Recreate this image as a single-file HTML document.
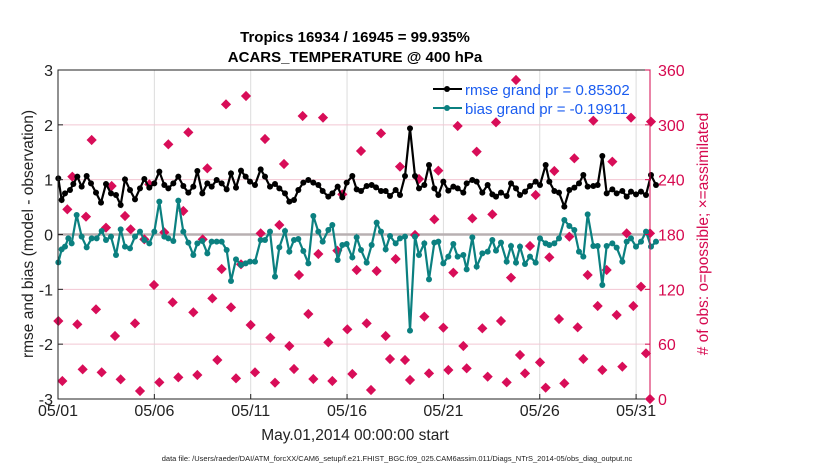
<!DOCTYPE html>
<html><head><meta charset="utf-8">
<style>
html,body{margin:0;padding:0;background:#fff;}
body{width:830px;height:470px;overflow:hidden;}
text{font-family:"Liberation Sans",Arial,sans-serif;}
</style></head>
<body>
<svg id="s" width="830" height="470" xmlns="http://www.w3.org/2000/svg">
<rect width="830" height="470" fill="#fff"/>
<g id="grid"></g>
<g id="pts"></g>
<g id="lines"></g>
<rect x="58" y="70" width="592" height="329" fill="none" stroke="#222" stroke-width="1"/>
<g id="ticks"></g>
<text x="355" y="42" text-anchor="middle" font-size="15" font-weight="bold">Tropics 16934 / 16945 = 99.935%</text>
<text x="355" y="62" text-anchor="middle" font-size="15" font-weight="bold">ACARS_TEMPERATURE @ 400 hPa</text>
<text x="355" y="440" text-anchor="middle" font-size="15.5" fill="#222">May.01,2014 00:00:00 start</text>
<text x="397" y="461" text-anchor="middle" font-size="7.5" fill="#222">data file: /Users/raeder/DAI/ATM_forcXX/CAM6_setup/f.e21.FHIST_BGC.f09_025.CAM6assim.011/Diags_NTrS_2014-05/obs_diag_output.nc</text>
<text transform="translate(33,234) rotate(-90)" text-anchor="middle" font-size="15.5" fill="#222">rmse and bias (model - observation)</text>
<text transform="translate(708,234) rotate(-90)" text-anchor="middle" font-size="15.5" fill="#d6094f">#  of obs: o=possible; ×=assimilated</text>
<g id="legend">
<line x1="433" y1="89" x2="462" y2="89" stroke="#000" stroke-width="2"/><circle cx="447" cy="89" r="3" fill="#000"/>
<text x="465" y="95" font-size="15" fill="#1a5cf0">rmse grand pr = 0.85302</text>
<line x1="433" y1="108" x2="462" y2="108" stroke="#0b8080" stroke-width="2"/><circle cx="447" cy="108" r="3" fill="#0b8080"/>
<text x="465" y="114" font-size="15" fill="#1a5cf0">bias grand pr = -0.19911</text>
</g>
</svg>
<script>
var NS="http://www.w3.org/2000/svg";
function el(p,t,a){var e=document.createElementNS(NS,t);for(var k in a)e.setAttribute(k,a[k]);document.getElementById(p).appendChild(e);return e;}
var L=58,R=650,T=70,B=399;
for(var d=5;d<=30;d+=5){var x=58+d*19.27;el("grid","line",{x1:x,x2:x,y1:T,y2:B,stroke:"#dcdcdc","stroke-width":1});}
for(var v=-2;v<=2;v++){if(v==0)continue;var y=234.5-v*54.83;el("grid","line",{x1:L,x2:R,y1:y,y2:y,stroke:"#f2c6d3","stroke-width":1});}
el("grid","line",{x1:L,x2:R,y1:234.5,y2:234.5,stroke:"#b8b0b2","stroke-width":2.5});
var lab=["05/01","05/06","05/11","05/16","05/21","05/26","05/31"];
for(var i=0;i<7;i++){var x=58+i*5*19.27;el("ticks","line",{x1:x,x2:x,y1:B,y2:B-5,stroke:"#222"});var t=el("ticks","text",{x:x,y:416,"text-anchor":"middle","font-size":16,fill:"#222"});t.textContent=lab[i];}
for(var v=-3;v<=3;v++){var y=234.5-v*54.83;el("ticks","line",{x1:L,x2:L+5,y1:y,y2:y,stroke:"#222"});var t=el("ticks","text",{x:53,y:y+6,"text-anchor":"end","font-size":16,fill:"#222"});t.textContent=v;
 el("ticks","line",{x1:R,x2:R-5,y1:y,y2:y,stroke:"#d6094f"});var t2=el("ticks","text",{x:658,y:y+6,"font-size":16,fill:"#d6094f"});t2.textContent=(v+3)*60;}
el("ticks","line",{x1:R,x2:R,y1:T,y2:B,stroke:"#d6094f","stroke-width":1});
function m1(a){var r=[];for(var i=0;i<a.length;i+=2)r.push([55+a[i]/3,60+a[i+1]/3]);return r;}
function m2(a){var r=[];for(var i=0;i<a.length;i+=2)r.push([340+a[i]/3,60+a[i+1]/3]);return r;}
var rm=m1([10,355,20,420,30,400,45,390,55,372,67,350,80,380,95,348,108,370,123,398,138,428,153,372,168,400,183,405,197,435,210,358,225,390,240,418,255,385,268,357,283,383,298,370,313,335,328,375,340,385,355,370,370,350,385,378,400,398,415,380,427,333,442,400,457,370,470,380,485,360,500,370,515,388,528,340,543,383,558,332,572,350,585,365,600,375,617,328,630,350,645,380,660,372,673,385,690,400,703,425,717,420,730,390,745,368,760,360,775,368,790,375,803,393,820,410,832,400,848,380,862,412]).concat(m2([20,368,37,348,50,388,63,393,80,378,95,375,108,382,123,393,137,393,150,408,167,390,180,405,195,348,210,205,225,348,237,385,253,375,267,315,283,385,295,405,310,365,325,392,340,380,353,385,370,398,380,370,397,360,410,365,427,398,443,375,457,403,468,410,483,398,500,408,513,370,528,385,540,405,555,395,570,378,587,365,600,375,617,315,628,365,643,393,657,398,673,440,688,390,703,383,717,370,730,345,743,380,760,378,773,375,787,288,800,400,817,388,830,400,847,393,860,410,873,395,888,403,903,395,918,405,933,345,948,375]));
var bi=m1([10,607,20,568,30,560,40,535,50,550,65,465,80,530,95,562,110,535,125,535,140,513,153,540,168,530,183,585,197,508,210,560,225,565,240,530,255,515,268,540,283,550,298,515,313,425,328,530,340,535,355,543,370,422,385,515,400,548,415,585,427,550,442,543,457,580,470,545,485,545,500,545,515,570,528,663,543,598,558,615,572,610,585,605,600,605,617,540,630,540,645,515,660,650,673,562,690,513,703,575,717,540,730,537,745,573,760,610,775,468,790,515,803,545,820,510,832,495,848,600,862,555]).concat(m2([20,552,37,592,50,532,63,570,80,608,95,555,110,488,123,515,137,568,150,528,167,550,180,535,195,530,210,812,225,530,237,585,253,550,267,658,283,548,295,545,310,610,325,590,340,552,353,590,370,585,380,628,397,532,410,620,427,580,443,575,457,540,468,572,483,548,500,605,513,558,528,608,540,560,555,612,570,590,587,608,600,535,617,550,628,555,643,550,657,535,673,480,688,498,703,510,717,575,730,590,743,463,760,558,773,558,787,675,800,558,817,550,830,563,847,605,860,545,873,535,888,560,903,545,918,515,933,560,948,545]));
var dm=m1([10,783,22,963,37,448,52,350,67,793,83,928,93,470,110,240,123,748,140,937,153,503,170,378,180,828,197,958,210,468,227,508,240,790,255,993,268,538,283,373,297,675,313,967,328,517,340,253,353,727,370,952,385,453,400,217,415,757,427,945,443,538,457,325,472,715,487,900,500,627,513,133,528,742,543,955,558,613,573,108,587,795,600,937,617,520,630,237,646,833,660,968,673,495,687,312,703,858,717,927,732,645,743,168,760,762,775,957,790,582,804,173,820,847,832,963,847,572,862,403]).concat(m2([22,808,37,942,50,630,63,273,80,790,93,990,110,633,123,220,137,828,150,897,167,597,180,320,195,900,210,960,225,525,237,357,253,770,267,940,283,478,295,332,310,803,325,930,340,638,353,198,370,858,380,925,397,475,410,275,427,805,443,950,457,463,468,187,483,783,500,967,513,653,528,60,540,885,555,940,570,558,587,405,600,907,617,983,628,592,643,333,657,777,673,970,688,530,703,295,713,802,730,897,743,645,760,182,773,738,787,930,800,630,817,305,830,765,847,920,860,520,873,173,880,738,903,680,918,880,930,520,933,185,930,1017]));
dm.forEach(function(p){el("pts","rect",{x:p[0]-3.6,y:p[1]-3.6,width:7.2,height:7.2,fill:"#d80d58",transform:"rotate(45 "+p[0]+" "+p[1]+")"});});
function draw(a,c){el("lines","polyline",{points:a.map(function(p){return p.join(",")}).join(" "),fill:"none",stroke:c,"stroke-width":2.2});a.forEach(function(p){el("lines","circle",{cx:p[0],cy:p[1],r:3,fill:c});});}
draw(bi,"#0b8080");draw(rm,"#000");
</script>
</body></html>
